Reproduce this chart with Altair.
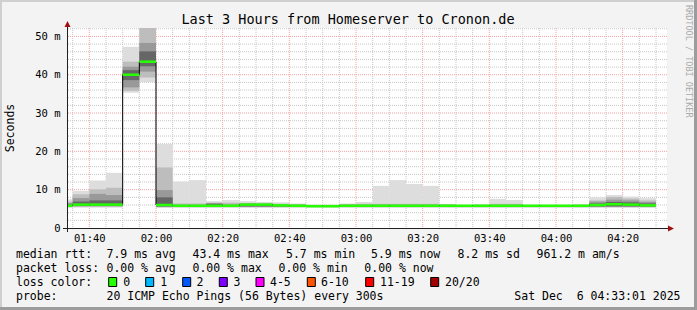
import altair as alt
import pandas as pd

# ---------------- data ----------------
times = ["01:30", "01:35", "01:40", "01:45", "01:50", "01:55",
         "02:00", "02:05", "02:10", "02:15", "02:20", "02:25",
         "02:30", "02:35", "02:40", "02:45", "02:50", "02:55",
         "03:00", "03:05", "03:10", "03:15", "03:20", "03:25",
         "03:30", "03:35", "03:40", "03:45", "03:50", "03:55",
         "04:00", "04:05", "04:10", "04:15", "04:20", "04:25"]

median = [5.8, 6.1, 6.1, 6.1, 40.0, 43.4,
          6.0, 5.8, 5.8, 5.8, 5.8, 6.1,
          6.1, 5.9, 5.8, 5.7, 5.7, 5.8,
          5.8, 5.8, 5.8, 5.8, 5.8, 5.8,
          5.8, 5.8, 5.8, 5.8, 5.8, 5.8,
          5.8, 5.8, 6.0, 6.2, 6.1, 5.9]

# smoke band edges (outer = lightest ... inner = darkest)
lo1 = [5.25, 5.3, 5.3, 5.3, 35.3, 38.1] + [5.25] * 30
lo2 = [5.45, 5.5, 5.5, 5.5, 35.8, 39.3] + [5.45] * 30
lo3 = [5.55, 5.7, 5.7, 5.7, 36.7, 40.8] + [5.55] * 30
lo4 = [5.65, 5.85, 5.85, 5.85, 38.6, 42.2] + [5.65] * 30

hi4 = [6.1, 6.9, 7.2, 7.2, 41.2, 46.1,
       8.0, 6.0, 6.0, 6.3, 6.0, 6.3,
       6.3, 6.0, 6.0, 5.9, 5.9, 6.0,
       6.0, 6.0, 6.0, 6.0, 6.0, 6.0,
       6.0, 6.0, 6.0, 6.0, 6.0, 6.0,
       6.0, 6.0, 6.4, 6.8, 6.7, 6.4]
hi3 = [6.5, 7.8, 8.9, 8.6, 42.1, 48.3,
       9.9, 6.1, 6.1, 6.5, 6.2, 6.4,
       6.3, 6.1, 6.1, 6.0, 6.0, 6.1,
       6.1, 6.1, 6.1, 6.1, 6.1, 6.1,
       6.0, 6.0, 6.1, 6.1, 6.0, 6.0,
       6.0, 6.0, 6.9, 7.4, 7.2, 6.8]
hi2 = [6.9, 8.8, 10.1, 10.5, 43.4, 55.0,
       15.8, 6.4, 6.4, 6.6, 6.6, 6.5,
       6.4, 6.3, 6.2, 6.0, 6.0, 6.2,
       6.3, 6.3, 6.3, 6.3, 6.3, 6.1,
       6.0, 6.1, 6.3, 6.3, 6.0, 6.0,
       6.0, 6.1, 7.2, 8.1, 7.7, 7.2]
hi1 = [7.5, 9.7, 12.4, 14.4, 47.3, 60.0,
       21.9, 12.1, 12.5, 7.0, 7.3, 7.0,
       6.8, 6.7, 6.4, 6.1, 6.1, 6.4,
       6.8, 11.0, 12.5, 11.5, 11.0, 6.3,
       6.1, 6.3, 7.6, 7.3, 6.1, 6.1,
       6.1, 6.3, 8.0, 8.6, 8.2, 7.8]

x_ticks = ["01:40", "02:00", "02:20", "02:40", "03:00", "03:20", "03:40", "04:00", "04:20"]
y_ticks = [0, 10, 20, 30, 40, 50]

loss_labels = ["0", "1", "2", "3", "4-5", "6-10", "11-19", "20/20"]
loss_colors = ["#26ff00", "#00b8ff", "#0059ff", "#7e00ff", "#ff00ff", "#ff5500", "#ff0000", "#a10000"]

title_text = "Last 3 Hours from Homeserver to Cronon.de"
legend_rtt = ["median rtt:", "7.9 ms avg", "43.4 ms max", "5.7 ms min", "5.9 ms now", "8.2 ms sd", "961.2 m am/s"]
legend_loss = ["packet loss:", "0.00 % avg", "0.00 % max", "0.00 % min", "0.00 % now"]
legend_probe = ["probe:", "20 ICMP Echo Pings (56 Bytes) every 300s", "Sat Dec  6 04:33:01 2025"]

# ---------------- layout ----------------
FONT = "DejaVu Sans Mono"
OX, OY = 67, 28          # plot origin in the page
W, H = 600, 200
X0, X1 = 93.3, 273.3     # minutes after midnight shown
YMAX = 52.2


def to_min(t):
    h, m = t.split(":")
    return int(h) * 60 + int(m)


start = [to_min(t) for t in times]
df = pd.DataFrame(dict(t0=start, t1=[s + 5 for s in start], med=median,
                       lo1=lo1, lo2=lo2, lo3=lo3, lo4=lo4,
                       hi1=hi1, hi2=hi2, hi3=hi3, hi4=hi4))
step_df = pd.DataFrame(dict(t0=start + [start[-1] + 5], med=median + [median[-1]]))

xs = alt.Scale(domain=[X0, X1], nice=False, zero=False)
ys = alt.Scale(domain=[0, YMAX], nice=False, zero=False)

major_x = [to_min(t) for t in x_ticks]
minor_x = [m for m in range(95, 275, 5) if m not in major_x]
major_y = [10, 20, 30, 40, 50]
minor_y = [v for v in range(2, 53, 2) if v % 10 != 0]

x_label_expr = ("(floor(datum.value/60) < 10 ? '0' : '') + floor(datum.value/60) + ':' + "
                "(datum.value % 60 < 10 ? '0' : '') + (datum.value % 60)")
y_label_expr = "datum.value == 0 ? '0\u00a0\u00a0' : datum.value + ' m'"
AX = alt.Axis(values=major_x, labelExpr=x_label_expr, grid=False, domain=False,
              ticks=False, labelPadding=5, labelFont=FONT, labelFontSize=10.5,
              labelColor="black", title=None, labelFlush=False, labelOverlap=False,
              labelBaseline="top")
AY = alt.Axis(values=y_ticks, labelExpr=y_label_expr, grid=False, domain=False,
              ticks=False, labelPadding=7, labelFont=FONT, labelFontSize=10.5,
              labelColor="black", title=None, labelFlush=False, labelOverlap=False)

one = pd.DataFrame({"k": [0]})


def txt(s, x, y, size=11.5, align="left", baseline="alphabetic", color="black", angle=0):
    s = s.replace(" ", "\u00a0")
    return alt.Chart(one).mark_text(text=s, font=FONT, fontSize=size, align=align,
                                    baseline=baseline, color=color, angle=angle).encode(
        x=alt.value(x - OX), y=alt.value(y - OY))


def box(x0, x1, y0, y1, fill, stroke=None, sw=1):
    kw = dict(fill=fill, strokeWidth=sw)
    if stroke:
        kw["stroke"] = stroke
    else:
        kw["strokeWidth"] = 0
    return alt.Chart(one).mark_rect(**kw).encode(
        x=alt.value(x0 - OX), x2=alt.value(x1 - OX), y=alt.value(y0 - OY), y2=alt.value(y1 - OY))


layers = []

# grid
layers.append(alt.Chart(pd.DataFrame({"t0": minor_x})).mark_rule(color="#c6c6c6", strokeDash=[1, 1], strokeWidth=1)
              .encode(x=alt.X("t0:Q", scale=xs, axis=AX)))
layers.append(alt.Chart(pd.DataFrame({"med": minor_y})).mark_rule(color="#c6c6c6", strokeDash=[1, 1], strokeWidth=1)
              .encode(y=alt.Y("med:Q", scale=ys, axis=AY)))
layers.append(alt.Chart(pd.DataFrame({"t0": major_x})).mark_rule(color="#f3a3a3", strokeDash=[1, 1], strokeWidth=1)
              .encode(x=alt.X("t0:Q", scale=xs, axis=AX)))
layers.append(alt.Chart(pd.DataFrame({"med": major_y})).mark_rule(color="#f3a3a3", strokeDash=[1, 1], strokeWidth=1)
              .encode(y=alt.Y("med:Q", scale=ys, axis=AY)))

# smoke
smoke_cols = [("lo1", "hi1", "#dddddd"), ("lo2", "hi2", "#bdbdbd"),
              ("lo3", "hi3", "#999999"), ("lo4", "hi4", "#666666")]
for lo, hi, c in smoke_cols:
    layers.append(alt.Chart(df).mark_rect(fill=c, clip=True, strokeWidth=0).encode(
        x=alt.X("t0:Q", scale=xs, axis=AX), x2="t1:Q",
        y=alt.Y(f"{lo}:Q", scale=ys, axis=AY), y2=f"{hi}:Q"))

# median step line (thin dark)
layers.append(alt.Chart(step_df).mark_line(interpolate="step-after", color="#000000", strokeWidth=1, clip=True)
              .encode(x=alt.X("t0:Q", scale=xs, axis=AX), y=alt.Y("med:Q", scale=ys, axis=AY)))

# median coloured by loss (all 0 loss)
layers.append(alt.Chart(df).mark_rule(color=loss_colors[0], strokeWidth=2.5, clip=True).encode(
    x=alt.X("t0:Q", scale=xs, axis=AX), x2="t1:Q",
    y=alt.Y("med:Q", scale=ys, axis=AY)))

# axis lines and arrows
layers.append(alt.Chart(one).mark_rule(color="#202020", strokeWidth=1).encode(
    x=alt.value(-4), x2=alt.value(W + 1), y=alt.value(H + 0.5)))
layers.append(alt.Chart(one).mark_rule(color="#202020", strokeWidth=1).encode(
    x=alt.value(0.5), y=alt.value(-2), y2=alt.value(H + 4)))
layers.append(alt.Chart(one).mark_point(shape="M0,-1L1,1L-1,1Z", filled=True, size=36, color="#a01010", opacity=1)
              .encode(x=alt.value(0.5), y=alt.value(-4)))
layers.append(alt.Chart(one).mark_point(shape="M1,0L-1,1L-1,-1Z", filled=True, size=36, color="#a01010", opacity=1)
              .encode(x=alt.value(W + 4), y=alt.value(H + 0.5)))

# frame
layers.append(box(0, 697, 0, 2, "#cfcfcf"))
layers.append(box(0, 2, 0, 310, "#cfcfcf"))
layers.append(box(0, 697, 307, 310, "#9c9c9c"))
layers.append(box(694, 697, 0, 310, "#9c9c9c"))

# titles
layers.append(txt(title_text, 348, 24, size=13.5, align="center"))
layers.append(txt("Seconds", 11, 128, size=11.5, align="center", baseline="middle", angle=270))
layers.append(txt("RRDTOOL / TOBI OETIKER", 689, 5, size=8.5, align="left", baseline="middle",
                  color="#aaaaaa", angle=90))

# legend
rtt_x = [16, 106.5, 192.5, 286, 371, 457.5, 536.5]
for s, x in zip(legend_rtt, rtt_x):
    layers.append(txt(s, x, 258.3))
loss_x = [16, 106.5, 192.5, 278.5, 364.3]
for s, x in zip(legend_loss, loss_x):
    layers.append(txt(s, x, 272.3))
layers.append(txt("loss color:", 16, 286))
box_x = [108.7, 145.7, 182.7, 219.3, 256, 307.3, 365.7, 430.7]
lab_x = [123.3, 160.3, 196.6, 233.6, 270, 321, 380, 445]
for lab, c, bx, lx in zip(loss_labels, loss_colors, box_x, lab_x):
    layers.append(box(bx, bx + 8, 277.5, 286.5, c, stroke="#000000", sw=1))
    layers.append(txt(lab, lx, 286))
layers.append(txt(legend_probe[0], 16, 300))
layers.append(txt(legend_probe[1], 106.5, 300))
layers.append(txt(legend_probe[2], 680.5, 300, align="right"))

chart = alt.layer(*layers).properties(
    width=W, height=H,
    autosize=alt.AutoSizeParams(type="none"),
    padding={"left": OX, "top": OY, "right": 697 - OX - W, "bottom": 310 - OY - H},
    background="#f3f3f3",
).configure_view(fill="white", stroke=None)

chart.save("out.html", embed_options={"renderer": "svg", "actions": False})
